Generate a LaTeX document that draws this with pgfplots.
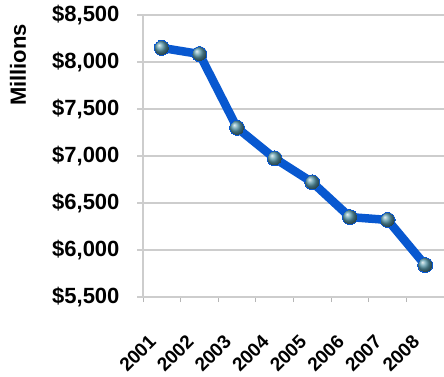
\documentclass[border=0pt]{standalone}
\usepackage{pgfplots}
\pgfplotsset{compat=1.18}
\usepackage{fontspec}
\setmainfont{Liberation Sans}
\definecolor{lineblue}{RGB}{8,88,208}
\definecolor{ballc}{RGB}{88,152,170}
\definecolor{gridc}{RGB}{205,205,205}
\begin{document}
\begin{tikzpicture}
\begin{axis}[
  scale only axis,
  width=301pt, height=282pt,
  xmin=-0.5, xmax=7.5,
  ymin=5500, ymax=8500,
  ytick={5500,6000,...,8500},
  xtick={0,...,7},
  xticklabels={2001,2002,2003,2004,2005,2006,2007,2008},
  minor xtick={-0.5,0.5,...,7.5},
  major x tick style={draw=none},
  minor x tick style={draw=gridc!70!gray, line width=1pt},
  major y tick style={draw=gridc, line width=1.2pt},
  tick align=outside,
  major tick length=6pt,
  minor tick length=5pt,
  axis x line*=bottom, axis y line*=left,
  axis line style={-, draw=gridc, line width=1.3pt},
  ymajorgrids,
  major grid style={draw=gridc, line width=1.3pt},
  /pgf/number format/assume math mode=true,
  /pgf/number format/.cd, fixed, 1000 sep={,},
  /pgfplots/.cd,
  yticklabel={\$\pgfmathprintnumber{\tick}},
  yticklabel style={font=\fontsize{22}{24}\selectfont\bfseries, xshift=-14pt},
  xticklabel style={font=\fontsize{19}{22}\selectfont\bfseries, anchor=north east, inner sep=1pt, xshift=-14pt, yshift=-29pt, rotate=45},
  ylabel={Millions},
  every axis y label/.style={at={(rel axis cs:0,0.823)}, anchor=center, xshift=-125pt, rotate=90,
    font=\fontsize{22}{24}\selectfont\bfseries},
  clip=false,
]
\coordinate (ll) at (rel axis cs:0,0);
\coordinate (ur) at (rel axis cs:1,1);
\addplot[color=lineblue, line width=8.5pt, line join=round,
  mark=ball, mark size=7.5pt,
  mark options={ball color=ballc, draw=none, line width=0pt}]
  coordinates {(0,8150) (1,8085) (2,7300) (3,6975) (4,6720) (5,6350) (6,6320) (7,5840)};
\end{axis}
\pgfresetboundingbox
\path ([shift={(-143pt,-79pt)}]ll) rectangle ([shift={(0pt,15pt)}]ur);
\end{tikzpicture}
\end{document}
